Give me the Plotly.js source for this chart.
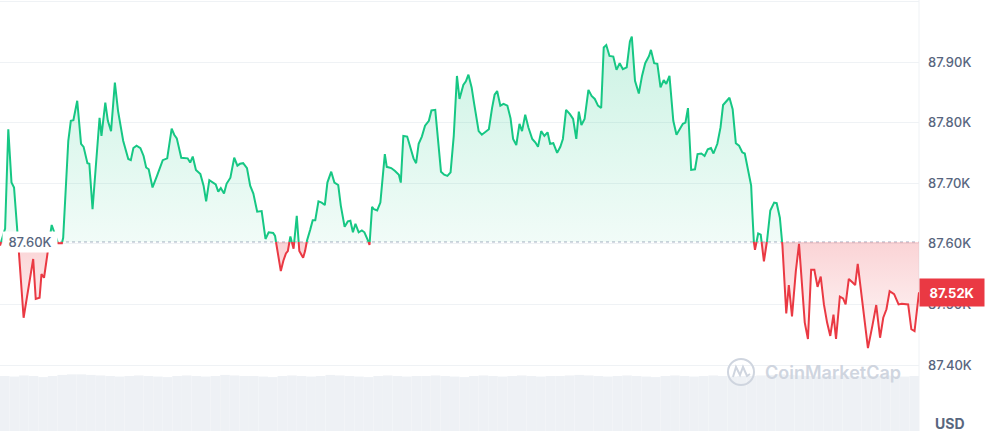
<!DOCTYPE html>
<html>
<head>
<meta charset="utf-8">
<script src="https://cdn.plot.ly/plotly-3.0.1.min.js"></script>
<style>
  html, body { margin: 0; padding: 0; background: #fff; }
  #chart { width: 985px; height: 434px; }
</style>
</head>
<body>
<div id="chart"></div>
<script>
// Minutes since start of the 24h window
const times = [0,8,13,18,22,27,30,37,52,56,62,65,69,73,81,91,97,99,107,111,115,121,127,131,137,140,145,152,156,159,165,169,174,180,185,193,201,205,209,214,220,225,229,233,239,246,255,262,269,273,277,284,290,294,298,302,307,314,319,323,328,334,338,342,346,351,355,361,367,372,376,381,387,392,397,403,408,410,416,421,428,431,435,440,444,448,451,455,460,465,469,475,478,481,486,490,494,499,504,509,513,519,524,530,534,540,545,549,553,557,562,567,571,576,579,583,586,591,596,603,606,613,619,625,628,632,638,643,648,652,656,661,666,672,676,682,686,691,696,701,706,711,716,720,726,730,734,739,743,750,755,760,766,771,775,779,784,789,795,800,804,809,814,818,823,828,834,839,843,848,853,858,862,867,873,878,882,887,893,898,903,907,911,916,922,927,932,937,942,946,950,955,961,966,971,976,982,987,990,995,1001,1006,1011,1017,1020,1025,1030,1035,1040,1044,1049,1055,1060,1065,1070,1074,1078,1083,1089,1093,1099,1104,1109,1114,1118,1124,1129,1133,1138,1143,1148,1153,1158,1163,1167,1172,1177,1179,1181,1183,1188,1192,1197,1202,1207,1213,1217,1222,1226,1232,1236,1241,1247,1252,1257,1261,1266,1271,1276,1281,1286,1291,1296,1301,1306,1310,1316,1321,1325,1330,1336,1340,1344,1350,1355,1360,1367,1373,1379,1384,1389,1394,1401,1408,1413,1418,1423,1428,1433,1440];

// BTC price in USD
const prices = [87597,87625,87789,87701,87693,87627,87577,87478,87575,87509,87511,87550,87544,87575,87631,87601,87601,87610,87770,87803,87804,87836,87765,87760,87733,87732,87657,87759,87808,87778,87833,87803,87786,87866,87819,87770,87740,87738,87758,87762,87758,87745,87726,87723,87693,87712,87738,87741,87790,87780,87774,87742,87742,87741,87734,87744,87722,87715,87696,87670,87705,87700,87698,87686,87692,87683,87699,87709,87742,87729,87732,87733,87725,87696,87683,87653,87653,87654,87608,87619,87618,87613,87586,87555,87572,87584,87588,87612,87592,87646,87588,87577,87588,87605,87623,87639,87639,87670,87668,87664,87701,87719,87701,87697,87663,87628,87637,87638,87619,87633,87619,87622,87619,87608,87598,87661,87657,87655,87668,87748,87727,87725,87720,87714,87701,87778,87777,87759,87741,87733,87765,87777,87795,87803,87820,87821,87777,87719,87714,87712,87718,87778,87877,87839,87862,87868,87879,87858,87831,87786,87780,87784,87789,87824,87846,87852,87828,87831,87828,87807,87773,87763,87798,87786,87813,87792,87773,87767,87760,87786,87778,87784,87765,87766,87750,87760,87773,87821,87814,87806,87773,87818,87796,87806,87854,87844,87839,87828,87824,87924,87928,87910,87909,87887,87898,87888,87891,87934,87942,87869,87848,87877,87898,87910,87920,87898,87897,87858,87870,87864,87877,87803,87780,87789,87798,87800,87824,87722,87723,87748,87749,87745,87756,87758,87749,87765,87792,87829,87835,87841,87822,87766,87762,87751,87749,87720,87696,87649,87605,87590,87617,87615,87571,87606,87655,87668,87667,87643,87597,87485,87532,87480,87555,87600,87522,87470,87443,87557,87557,87529,87546,87500,87470,87448,87483,87443,87513,87510,87500,87542,87536,87532,87567,87517,87473,87428,87465,87499,87445,87478,87492,87522,87517,87500,87501,87501,87500,87459,87456,87520];

// Relative volume per 15-minute bucket
const volume = [100,99,101,100,98,100,102,103,103,102,101,100,
                99,100,101,100,99,98,100,101,100,99,100,102,
                101,100,100,99,98,100,101,100,99,100,102,101,
                100,99,98,100,101,100,99,100,100,101,100,99,
                98,100,101,100,99,100,101,100,99,100,100,101,
                102,101,100,99,100,101,100,99,98,100,101,100,
                99,100,101,100,99,100,100,101,102,103,102,101,
                100,99,100,101,100,99,100,100,101,100,99,100];

const openPrice = 87603;           // reference (open) price, dotted line
const lastPrice = prices[prices.length - 1];
const tickVals = [87400, 87500, 87600, 87700, 87800, 87900, 88000];
const tickText = ['87.40K', '87.50K', '87.60K', '87.70K', '87.80K', '87.90K', ''];

const GREEN = '#16c784', RED = '#ea3943', GREY = '#58667e';

// split the line into above / below segments at the open price
const up = {x: [], y: []}, dn = {x: [], y: []};
const allX = [], allY = [];
for (let i = 0; i < prices.length; i++) {
  const a = prices[i] >= openPrice;
  (a ? up : dn).x.push(times[i]); (a ? up : dn).y.push(prices[i]);
  allX.push(times[i]); allY.push(prices[i]);
  if (i < prices.length - 1) {
    const b = prices[i + 1] >= openPrice;
    if (a !== b) {
      const f = (openPrice - prices[i]) / (prices[i + 1] - prices[i]);
      const tc = times[i] + f * (times[i + 1] - times[i]);
      const cur = a ? up : dn, oth = a ? dn : up;
      cur.x.push(tc, null); cur.y.push(openPrice, null);
      oth.x.push(tc); oth.y.push(openPrice);
      allX.push(tc); allY.push(openPrice);
    }
  }
}
const t0 = times[0], tN = times[times.length - 1];
const upFillX = [t0].concat(allX, [tN]);
const upFillY = [openPrice].concat(allY.map(v => Math.max(v, openPrice)), [openPrice]);
const dnFillY = [openPrice].concat(allY.map(v => Math.min(v, openPrice)), [openPrice]);

const volX = volume.map((v, i) => i * 15 + 7.5);

const traces = [
  {
    type: 'scatter', mode: 'lines', x: upFillX, y: upFillY, fill: 'toself',
    line: {width: 0}, hoverinfo: 'skip',
    fillgradient: {type: 'vertical', start: openPrice, stop: Math.max(...prices),
      colorscale: [[0, 'rgba(22,199,132,0.06)'], [1, 'rgba(22,199,132,0.22)']]}
  },
  {
    type: 'scatter', mode: 'lines', x: upFillX, y: dnFillY, fill: 'toself',
    line: {width: 0}, hoverinfo: 'skip',
    fillgradient: {type: 'vertical', start: Math.min(...prices), stop: openPrice,
      colorscale: [[0, 'rgba(234,57,67,0.03)'], [1, 'rgba(234,57,67,0.22)']]}
  },
  {type: 'scatter', mode: 'lines', x: up.x, y: up.y, connectgaps: false,
   line: {color: GREEN, width: 2}, hoverinfo: 'skip'},
  {type: 'scatter', mode: 'lines', x: dn.x, y: dn.y, connectgaps: false,
   line: {color: RED, width: 2}, hoverinfo: 'skip'},
  {type: 'bar', x: volX, y: volume, width: 15, yaxis: 'y2',
   marker: {color: '#eef1f5', line: {width: 0}}, hoverinfo: 'skip'}
];

const plotH = 431, pxPer = 1.65;
const yTop = 87900 + 62 * pxPer, yBot = 87400 - (plotH - 365) * pxPer;

// CoinMarketCap watermark anchors
const wmX = 741 / 919, wmY = 1 - 372 / plotH;

const layout = {
  width: 985, height: 434,
  margin: {l: 0, r: 66, t: 0, b: 3, pad: 0},
  paper_bgcolor: '#ffffff', plot_bgcolor: '#ffffff',
  showlegend: false,
  bargap: 0.06,
  font: {family: 'Inter, "Open Sans", sans-serif', color: GREY},
  xaxis: {range: [t0, tN], showgrid: false, zeroline: false, showticklabels: false,
          ticks: '', showline: false, fixedrange: true},
  yaxis: {range: [yBot, yTop], side: 'right', tickmode: 'array',
          tickvals: tickVals, ticktext: tickText, showgrid: true, gridcolor: '#eff2f5',
          gridwidth: 1, zeroline: false, ticks: '', showline: false, ticklabelstandoff: 8,
          tickfont: {family: 'Inter, sans-serif', size: 13, color: GREY, weight: 500}},
  yaxis2: {overlaying: 'y', range: [0, 100 * plotH / 55], showgrid: false, zeroline: false,
           showticklabels: false, ticks: '', showline: false},
  shapes: [
    {type: 'line', xref: 'paper', yref: 'y', x0: 0, x1: 1, y0: openPrice, y1: openPrice,
     line: {color: '#a6afc2', width: 1, dash: 'dot'}, layer: 'below'},
    {type: 'line', xref: 'paper', yref: 'paper', x0: 1, x1: 1, y0: 0, y1: 1,
     line: {color: '#eff2f5', width: 1}, layer: 'below'},
    {type: 'circle', xref: 'paper', yref: 'paper', xsizemode: 'pixel', ysizemode: 'pixel',
     xanchor: wmX, yanchor: wmY, x0: -13, x1: 13, y0: -13, y1: 13,
     line: {color: '#cfd5df', width: 2}, layer: 'above'},
    {type: 'path', xref: 'paper', yref: 'paper', xsizemode: 'pixel', ysizemode: 'pixel',
     xanchor: wmX, yanchor: wmY,
     path: 'M -8 -5 L -5 5 L -1 -3 L 2 5 L 6 -4 L 9 -2',
     line: {color: '#cfd5df', width: 2}, layer: 'above'}
  ],
  annotations: [
    {xref: 'paper', yref: 'y', x: 0, xshift: 2, xanchor: 'left', y: openPrice, yanchor: 'middle',
     text: '87.60K', showarrow: false, bgcolor: '#ffffff', width: 52, height: 18,
     font: {family: 'Inter, sans-serif', size: 13, color: GREY, weight: 500}},
    {xref: 'paper', yref: 'y', x: 1, xanchor: 'left', y: lastPrice, yanchor: 'middle',
     text: '87.52K', showarrow: false, bgcolor: RED, width: 62, height: 25,
     font: {family: 'Inter, sans-serif', size: 13, color: '#ffffff', weight: 700}},
    {xref: 'paper', yref: 'paper', x: 1, xshift: 14, xanchor: 'left', y: 1 - 423 / plotH,
     yanchor: 'middle', text: 'USD', showarrow: false,
     font: {family: 'Inter, sans-serif', size: 14, color: GREY, weight: 700}},
    {xref: 'paper', yref: 'paper', x: 763 / 919, xanchor: 'left', y: wmY, yanchor: 'middle',
     text: 'CoinMarketCap', showarrow: false,
     font: {family: 'Inter, sans-serif', size: 18, color: '#cfd5df', weight: 600}}
  ]
};

Plotly.newPlot('chart', traces, layout, {displayModeBar: false, staticPlot: true});
</script>
</body>
</html>
